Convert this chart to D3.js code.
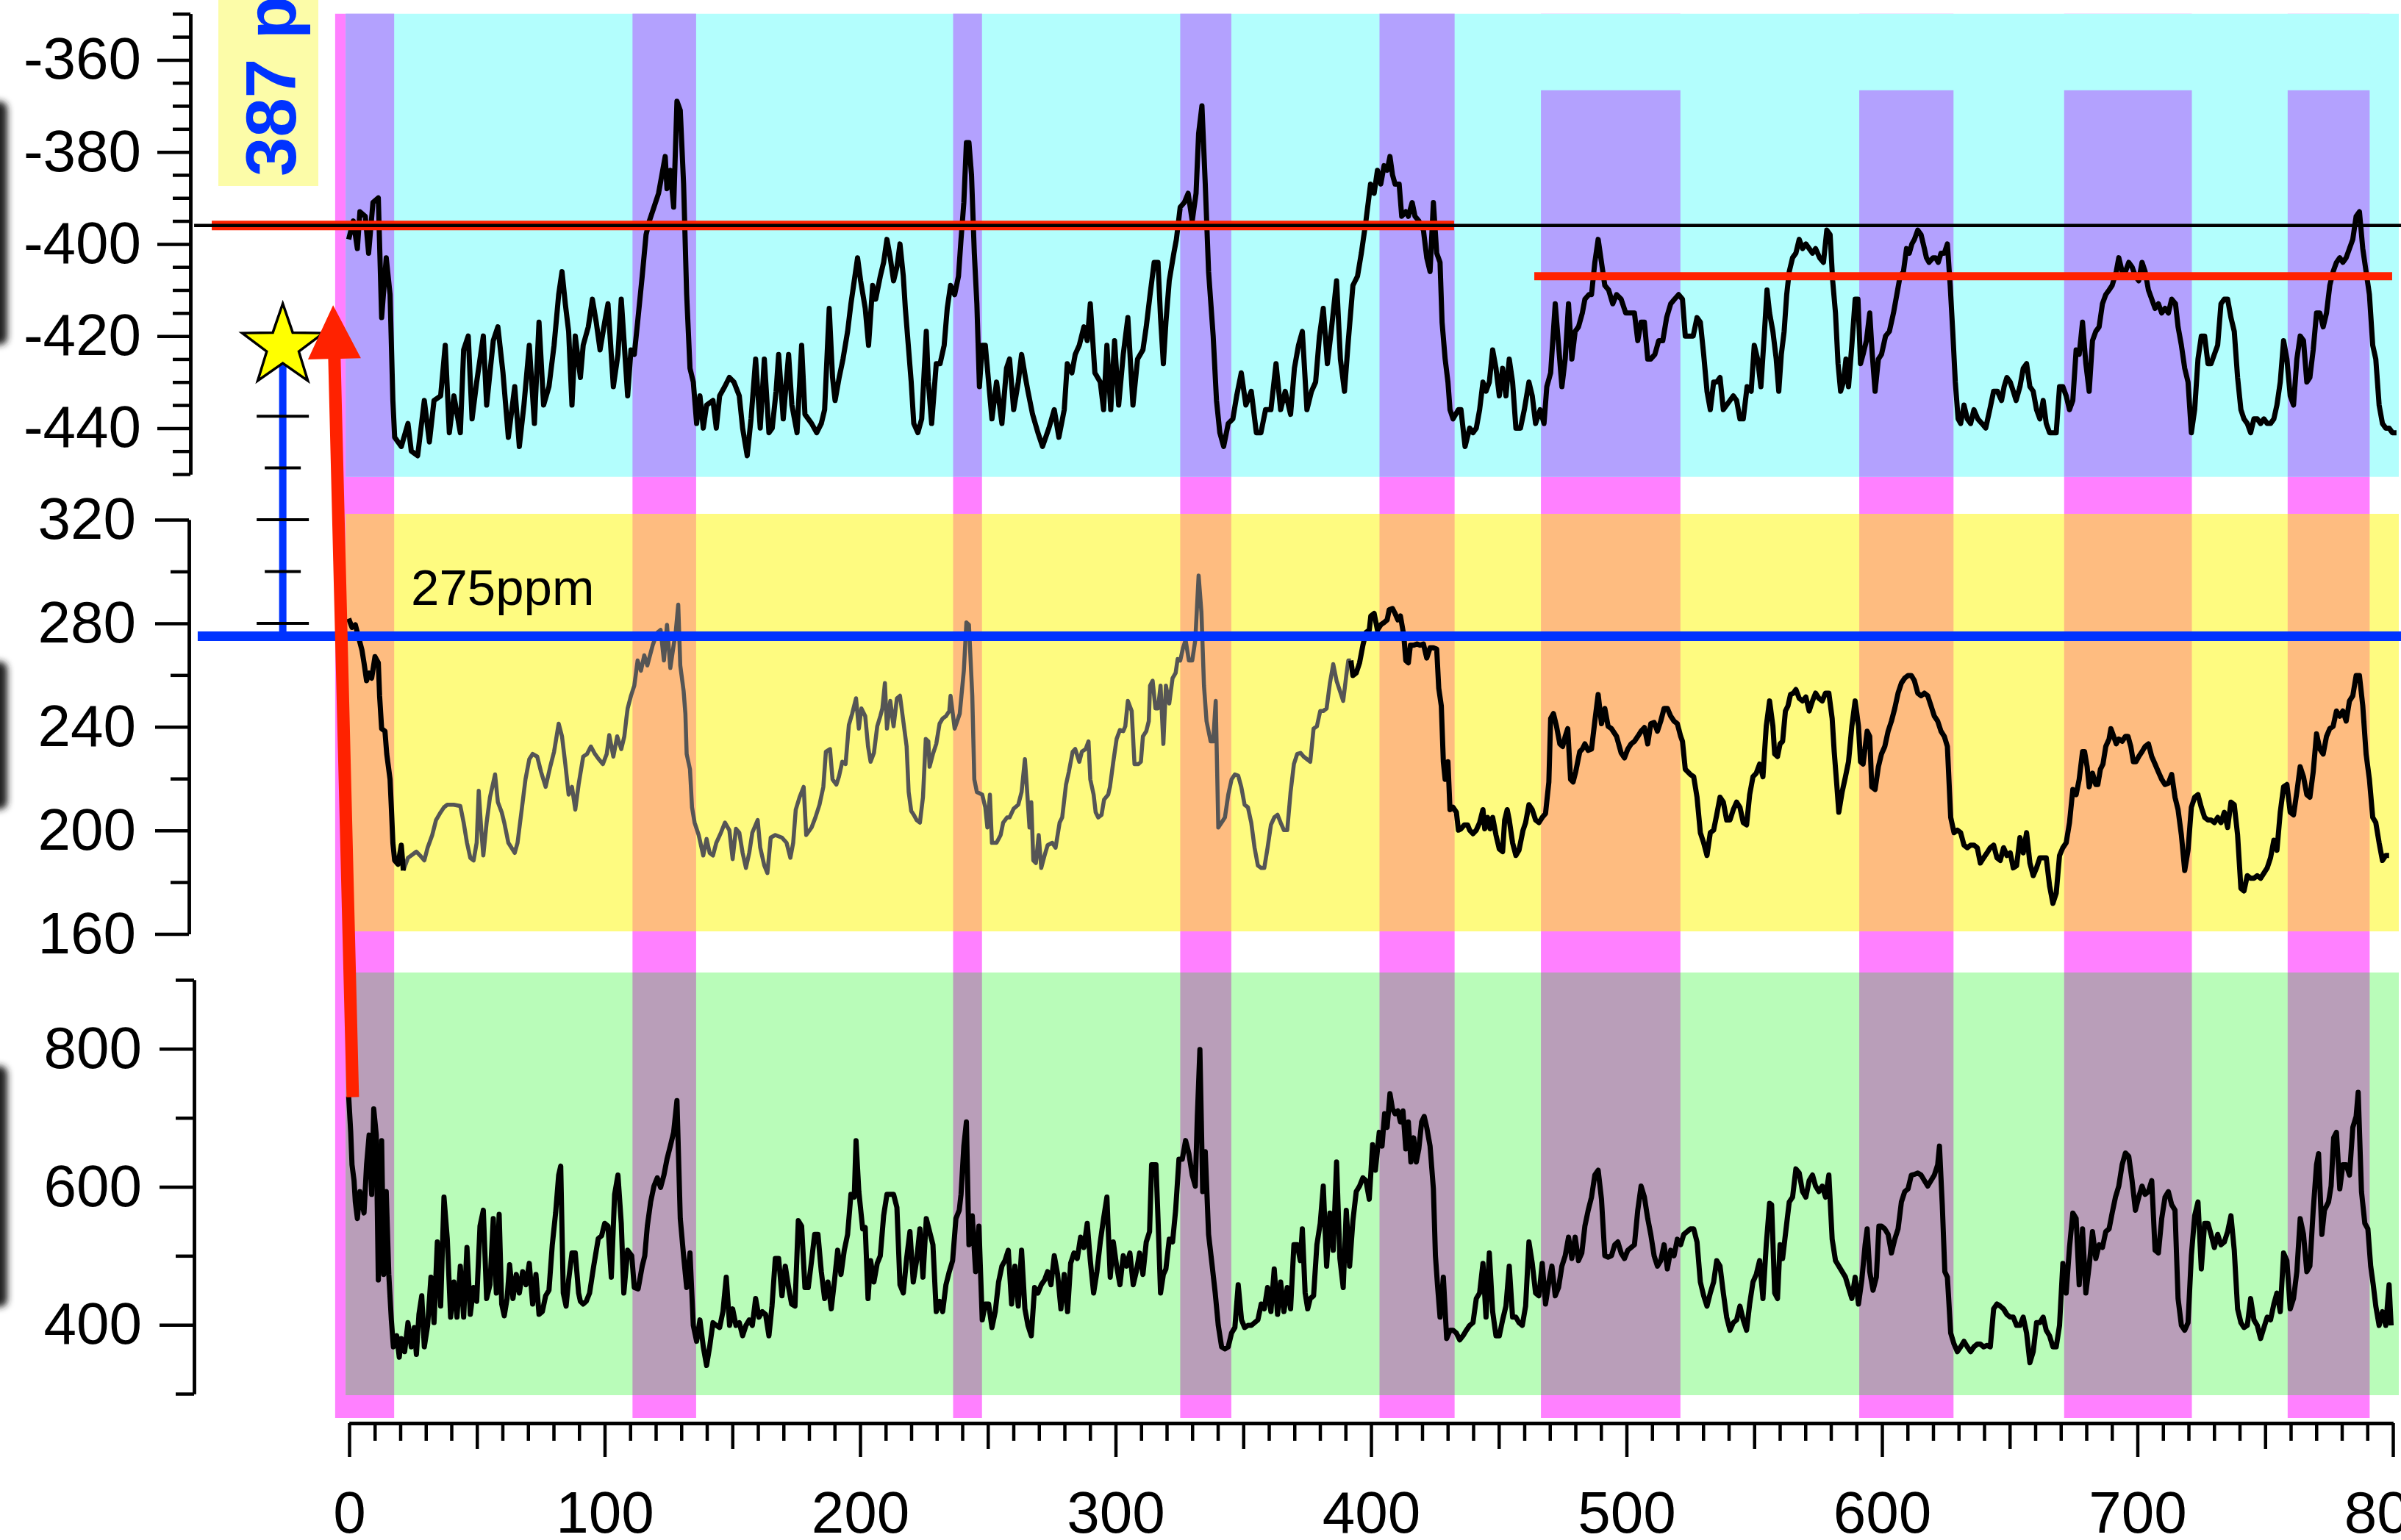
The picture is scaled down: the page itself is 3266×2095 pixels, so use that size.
<!DOCTYPE html>
<html>
<head>
<meta charset="utf-8">
<script src="https://cdn.jsdelivr.net/npm/d3@7"></script>
<style>
  body { margin: 0; background: #fff; }
  svg { display: block; font-family: "Liberation Sans", Arial, Helvetica, sans-serif; }
</style>
</head>
<body>
<div id="chart"></div>
<script>
// ---- data (age in ka BP, value) ----
// deuterium record (top panel, permil)
const dDSeries = [
[-0.2,-399],[1.6,-395],[3.2,-401],[4.2,-393],[6.3,-394],[7.6,-402],[9.3,-391],[11.4,-390],[12.7,-416],[14.5,-403],[16,-411],[17.1,-434],[17.8,-442],[20.4,-444],[23,-439],[24.3,-445],[26.8,-446],[29.4,-434],[31.4,-443],[33.2,-434],[35.8,-433],[37.6,-422],[39.2,-441],[41,-433],[43.5,-441],[44.8,-423],[46.6,-420],[48.1,-438],[49.9,-430],[52.5,-420],[53.8,-435],[56.4,-421],[58.2,-418],[60.2,-428],[62.3,-442],[64.8,-431],[66.6,-444],[68.4,-435],[70.5,-422],[72.5,-439],[74.3,-417],[76.1,-435],[78.2,-431],[80.2,-422],[82,-411],[83.3,-406],[84.6,-413],[85.9,-419],[87.2,-435],[88.5,-420],[90.5,-429],[91.6,-422],[93.6,-418],[95.2,-412],[96.7,-417],[98.2,-423],[100,-417],[101.3,-413],[103.4,-431],[105.2,-424],[106.5,-412],[107.7,-422],[109,-433],[110.3,-423],[111.6,-424],[112.9,-417],[114.7,-407],[116.2,-398],[117.5,-395],[119.3,-392],[121.1,-389],[122.4,-385],[123.7,-381],[124.4,-388],[125.7,-384],[127,-392],[128.3,-369],[129.6,-371],[130.9,-387],[132.1,-411],[133.4,-427],[134.7,-430],[136,-439],[137.3,-433],[138.6,-440],[139.9,-435],[142.4,-434],[143.7,-440],[145,-433],[147,-431],[148.8,-429],[150.6,-430],[152.7,-433],[154,-440],[155.8,-446],[157.3,-438],[159.1,-425],[160.9,-440],[162.5,-425],[164.3,-441],[165.6,-440],[167.1,-432],[168.1,-424],[169.9,-438],[172,-424],[173.3,-435],[175.3,-441],[177.1,-422],[178.4,-437],[181,-439],[183,-441],[184.8,-439],[186.1,-436],[187.9,-414],[189.2,-429],[190.2,-434],[191.8,-429],[193.3,-425],[195.1,-419],[196.4,-413],[197.7,-408],[199,-403],[200.2,-408],[202,-414],[203.3,-422],[204.9,-409],[206.1,-412],[207.9,-407],[209.2,-404],[210.5,-399],[211.8,-403],[213.1,-408],[214.4,-405],[215.6,-400],[216.9,-407],[217.7,-414],[219,-423],[220,-430],[221,-439],[222.6,-441],[224.1,-438],[225.9,-419],[226.7,-430],[228,-439],[229.8,-426],[231.3,-426],[232.9,-422],[234.1,-414],[235.4,-409],[237,-411],[238.5,-407],[239.5,-399],[240.6,-391],[241.6,-378],[242.6,-378],[243.6,-385],[244.7,-402],[245.7,-413],[246.7,-431],[247.8,-422],[249,-422],[250.3,-430],[251.6,-438],[253.4,-430],[255.5,-439],[257.3,-427],[258.5,-425],[260.1,-436],[261.9,-430],[263.2,-424],[264.7,-429],[265.7,-432],[267.5,-437],[269.6,-441],[271.4,-444],[273.9,-440],[276,-436],[277.8,-442],[279.9,-436],[281.1,-426],[282.9,-428],[284.2,-424],[285.8,-422],[287.6,-418],[288.9,-421],[290.1,-413],[291.9,-428],[294,-430],[295.3,-436],[296.6,-422],[298.1,-436],[299.6,-421],[301.2,-435],[303,-424],[304.8,-416],[306.8,-435],[308.6,-425],[310.7,-423],[312,-418],[313.5,-411],[315.1,-404],[316.6,-404],[317.6,-416],[318.7,-426],[319.7,-417],[321,-408],[322.8,-402],[323.8,-399],[325.3,-392],[326.9,-391],[328.4,-389],[330,-395],[331.5,-389],[332.5,-376],[333.8,-370],[335.1,-387],[336.4,-406],[338.2,-420],[339.5,-434],[340.8,-441],[342.3,-444],[344.1,-439],[345.9,-438],[347.4,-433],[349.2,-428],[351,-435],[353.1,-432],[355.1,-441],[356.9,-441],[358.7,-436],[360.8,-436],[362.8,-426],[364.6,-436],[366.4,-432],[368.5,-437],[370,-427],[371.6,-422],[373.1,-419],[374.9,-436],[376.7,-432],[378.3,-430],[379.8,-420],[381.3,-414],[382.9,-426],[384.4,-419],[386.5,-408],[388,-425],[389.6,-432],[391.1,-421],[392.9,-409],[394.7,-407],[396.2,-402],[398,-395],[399.8,-387],
[401.2,-389],[402.5,-384],[403.8,-387],[405.1,-383],[406.3,-384],[407.4,-381],[408.4,-385],[409.4,-387],[411,-387],[412,-394],[413.6,-393],[414.6,-394],[416.1,-391],[417.2,-394],[418.7,-395],[420.5,-397],[421.8,-403],[423.1,-406],[424.4,-391],[425.7,-402],[427,-404],[427.8,-417],[429,-425],[430.1,-430],[430.9,-436],[432.1,-438],[434.2,-436],[435.2,-436],[436.8,-444],[438.6,-440],[439.9,-441],[441.2,-440],[442.5,-436],[443.8,-430],[445,-432],[446.3,-430],[447.6,-423],[448.9,-427],[450.2,-433],[451.5,-427],[452.8,-433],[454.1,-425],[455.4,-430],[456.7,-440],[458.5,-440],[460,-436],[461.8,-430],[463.1,-433],[464.4,-439],[466.2,-436],[467.7,-439],[468.8,-431],[470.3,-428],[472.1,-413],[473.4,-422],[474.7,-431],[476,-425],[477.3,-413],[478.6,-425],[479.9,-419],[481.2,-418],[482.7,-415],[483.7,-412],[485.3,-411],[486.3,-411],[487.6,-404],[488.9,-399],[490.2,-404],[491.5,-409],[493,-410],[494.6,-413],[496.1,-411],[497.9,-412],[499.7,-415],[501.8,-415],[503.1,-415],[504.4,-421],[505.7,-417],[507,-417],[508.3,-425],[509.5,-425],[511.1,-424],[512.6,-421],[514.2,-421],[515.7,-416],[517.3,-413],[518.8,-412],[520.4,-411],[521.9,-412],[523,-420],[524.5,-420],[526.1,-420],[527.6,-416],[528.9,-417],[530.2,-424],[531.5,-432],[532.8,-436],[534.1,-430],[535.3,-430],[536.6,-429],[537.9,-436],[539.2,-435],[540.5,-434],[541.8,-433],[543.1,-434],[544.4,-438],[545.7,-438],[547.2,-431],[548.8,-432],[550,-422],[551.3,-425],[552.6,-431],[553.9,-420],[555,-410],[556,-415],[557.3,-419],[558.6,-425],[559.6,-432],[560.6,-424],[561.7,-419],[562.7,-411],[563.7,-406],[565,-403],[566.3,-402],[567.6,-399],[568.9,-401],[570.2,-400],[571.5,-401],[572.8,-402],[574,-401],[575.6,-403],[577.1,-404],[578.4,-397],[579.7,-398],[580.7,-408],[581.8,-415],[582.8,-426],[583.8,-432],[584.9,-430],[585.9,-425],[586.9,-431],[588.2,-422],[589.5,-412],[590.6,-412],[591.6,-426],[592.6,-424],[593.9,-421],[595.2,-415],[596.2,-424],[597.3,-432],[598.6,-425],[599.8,-424],[601.4,-420],[602.9,-419],[604.5,-415],[605.8,-411],[607.1,-407],[608.4,-406],[609.6,-401],[610.7,-402],[611.7,-400],[612.7,-399],[614,-397],[615.3,-398],[616.6,-401],[617.4,-403],[618.4,-404],[620,-403],[621,-403],[622,-404],[623.1,-402],[624.4,-402],[625.6,-400],[626.7,-409],[627.7,-419],[628.7,-430],[629.8,-438],[630.8,-439],[632.1,-435],[633.4,-438],[634.7,-439],[636,-436],[637.5,-438],[639.1,-439],[640.6,-440],[642.2,-436],[643.7,-432],[645.2,-432],[646.8,-434],[647.8,-431],[648.9,-429],[650.2,-430],[651.4,-432],[652.5,-434],[654,-431],[655.3,-427],[656.6,-426],[657.9,-431],[659.2,-432],[660.5,-436],[661.8,-438],[663.1,-434],[664.3,-439],[665.6,-441],[666.9,-441],[668.2,-441],[669.5,-431],[670.8,-431],[672.1,-433],[673.4,-436],[674.7,-434],[676,-423],[677.2,-424],[678.5,-417],[679.8,-426],[681.1,-432],[682.4,-421],[683.7,-419],[685,-418],[686.3,-413],[687.6,-411],[688.9,-410],[690.1,-409],[691.7,-406],[692.7,-403],[694,-406],[695.3,-406],[696.6,-404],[697.9,-405],[699.2,-407],[700.5,-408],[701.8,-404],[703,-406],[704.3,-410],[705.6,-412],[706.9,-414],[708.2,-413],[709.5,-415],[710.8,-414],[712.1,-415],[713.4,-412],[714.9,-413],[715.9,-418],[717.2,-422],[718.5,-427],[719.8,-430],[721.1,-441],[722.4,-436],[723.7,-425],[725,-420],[726.3,-420],[727.6,-426],[728.8,-426],[730.1,-424],[731.4,-422],[732.7,-413],[734,-412],[735.3,-412],[736.6,-416],[737.9,-419],[739.2,-429],[740.5,-436],[741.7,-438],[743,-439],[744.3,-441],[745.6,-438],[746.9,-438],[748.2,-439],[749.5,-438],[750.8,-439],[752.1,-439],[753.4,-438],[754.6,-435],[755.9,-430],[757.2,-421],[758.5,-425],[759.8,-433],[761.1,-435],[762.4,-425],[763.7,-420],[765,-421],[766.3,-430],[767.5,-429],[768.8,-423],[770.1,-415],[771.4,-415],[772.7,-418],[774,-415],[775.3,-409],[776.6,-406],[777.9,-404],[779.2,-403],[780.4,-404],[781.7,-403],[783,-401],[784.3,-399],[785.6,-394],[786.9,-393],[788.2,-401],[789.5,-406],[790.8,-411],[792.1,-422],[793.3,-425],[794.6,-435],[795.9,-439],[797.2,-440],[798.5,-440],[799.8,-441],[801.4,-441]
];

// CO2 (ppmv): recent high-resolution part, older low-resolution part (grey), oldest part
const co2Recent = [
[-0.2,281.8],[1.1,278.4],[2.4,279.4],[3.7,274.5],[5,269.6],[5.8,264.7],[6.8,257.8],[7.8,260.8],[8.8,258.8],[10.1,267.1],[11.4,264.7],[11.9,252],[12.7,239.3],[14,238.3],[14.7,229.5],[16,219.7],[16.5,208.9],[17.1,195.2],[17.8,188.4],[19.1,186.9],[20.4,194.3],[21.2,184.5]
];
const co2Grey = [
[21.2,184.5],[23,189.4],[24.3,190.3],[26.3,191.8],[28.1,189.9],[29.4,188.4],[30.7,193.3],[32.5,198.2],[34,204],[35.8,207],[37.1,208.9],[38.4,209.9],[40.9,209.9],[43.5,209.4],[44.8,203],[46.1,195.2],[47.4,189.4],[48.7,188.4],[49.9,195.2],[50.7,215.3],[51.7,200.1],[52.5,190.3],[53.8,203],[55.1,212.8],[57.1,221.6],[58.2,210.9],[59.7,207],[60.7,203],[62.3,195.2],[64.8,191.3],[65.9,195.2],[67.4,207],[69,219.7],[70.5,227.5],[71.8,229.5],[73.6,228.5],[75.1,222.6],[76.9,216.8],[78.7,224.6],[80.2,230.4],[82,241.2],[83.3,236.3],[84.6,225.6],[85.9,213.8],[87.2,216.8],[88.5,208],[89.8,217.7],[91.6,228.5],[93.1,229.5],[94.6,232.4],[96.2,229.5],[97.7,227.5],[99.3,225.6],[100.8,229.5],[101.8,236.8],[103.4,228.5],[104.9,236.3],[106.5,231.4],[107.7,236.3],[108.5,243.2],[109,247.1],[110.3,252],[111.6,255.9],[112.9,265.6],[114.2,261.7],[115.5,267.6],[116.7,263.7],[118.8,271.5],[120.6,276.4],[121.9,277.4],[123.2,265.6],[124.4,279.4],[125.7,262.7],[127,271.5],[127.8,276.4],[128.8,287.2],[129.6,263.7],[130.9,253.9],[131.6,245.1],[132.1,229.5],[133.4,223.6],[134.2,208.9],[135.2,203],[136.8,198.2],[138.6,190.3],[139.9,196.7],[141.1,191.3],[142.4,190.3],[143.7,195.2],[145.5,199.1],[147.1,203],[148.8,200.1],[150.1,188.9],[151.4,200.6],[152.7,199.1],[154,191.3],[155.3,185.5],[156.6,191.3],[157.8,199.1],[159.9,204],[160.9,193.3],[162.5,186.4],[163.7,183.5],[165,197.2],[166.8,198.2],[169.4,197.2],[171.2,195.2],[172.7,189.4],[173.8,195.2],[174.8,208],[176.3,212.8],[177.9,216.8],[178.9,198.2],[181,201.1],[182.5,205],[184.1,209.9],[185.6,216.8],[186.6,230.4],[188.2,231.4],[189.2,219.7],[190.7,217.7],[191.7,220.7],[193,226.5],[194.3,225.6],[195.6,240.7],[196.9,245.1],[198.4,251],[199.5,239.3],[200.5,247.1],[202,244.1],[203.1,232.4],[204.1,226.5],[205.4,229.9],[206.7,240.2],[207.9,244.1],[208.7,247.1],[209.7,256.9],[210.5,239.3],[211.8,250],[213.1,240.2],[214.4,251],[215.6,252],[216.9,242.2],[218.2,232.4],[219,214.8],[220,207.5],[221,206],[222.1,204],[223.4,203],[224.6,212.8],[225.7,235.3],[226.7,234.4],[227.2,224.6],[228.5,229.5],[229.8,233.4],[231.1,241.2],[232.3,243.2],[233.6,244.1],[234.9,246.1],[235.4,252],[237,239.3],[238,242.2],[239,245.1],[240.6,261.7],[241.6,280.3],[242.6,279.4],[243.9,252],[244.7,219.7],[245.7,214.8],[247.8,213.8],[249,208.9],[249.8,201.1],[250.8,213.8],[251.6,195.2],[253.4,195.2],[255,198.2],[256,203],[257.5,205],[258.5,205],[260.1,208.4],[261.9,209.9],[263.2,214.8],[264.5,227.5],[265.2,217.7],[266.3,201.1],[267,210.9],[267.8,188.4],[268.8,187.4],[269.9,198.2],[270.9,185.5],[272.2,190.3],[273.4,194.3],[275.2,195.2],[276.5,193.3],[278.1,203],[279.1,205],[280.6,217.7],[281.7,222.6],[283.2,230.4],[284.2,231.4],[285.8,226.5],[286.8,230.4],[288.3,231.4],[289.4,234.4],[290.1,219.7],[291.4,213.8],[292.2,207],[293.2,205],[294.5,206],[295.5,211.9],[297.1,213.8],[297.8,216.8],[299.1,226.5],[300.4,235.3],[301.7,238.8],[303,238.3],[303.8,240.2],[304.8,250],[306.3,246.1],[307.4,225.6],[308.9,225.6],[309.9,226.5],[310.7,236.3],[312,238.3],[313,242.2],[313.5,255.9],[314.5,257.8],[315.6,247.1],[316.6,247.1],[317.6,255.9],[318.7,233.4],[319.7,255.9],[321,249],[322.3,258.8],[323.5,260.8],[324.3,266.2],[325.3,265.6],[326.4,270.5],[327.4,273.5],[328.7,265.6],[330,265.6],[331.2,273.5],[332.5,298.4],[333.6,284.2],[334.6,255.9],[335.6,242.2],[337.2,234.4],[338.2,234.4],[339.2,250],[340.2,201.1],[341.5,203],[342.8,205],[344.1,213.8],[345.4,219.7],[346.7,221.6],[348,221.1],[349.2,216.8],[350.5,209.9],[351.8,208.9],[353.1,203],[354.4,193.3],[355.7,186.4],[357,185.5],[358.2,185.5],[359.5,193.3],[360.8,202.1],[362.1,205],[363.4,206],[364.6,203],[365.9,200.1],[367.2,200.1],[368.5,214.8],[369.8,225.6],[371.1,229.5],[372.4,229.9],[373.6,228.5],[374.9,227.5],[376.2,226.5],[377.5,239.3],[378.8,240.2],[380.1,246.1],[381.3,246.1],[382.6,247.1],[383.9,256.9],[385.2,264.2],[386.5,257.8],[387.8,253.9],[389.1,250],[390.3,259.8],[391.1,265.6],[392.1,265.6]
];
const co2Old = [
[392.1,265.6],[392.9,259.8],[394.2,260.8],[395.5,264.7],[396.8,271.5],[398,276.4],[399.3,277.4],[399.9,282.8],[401.2,283.8],[402.5,277.4],[403.8,279.4],[405.1,280.3],[406.3,281.3],[407.1,285.2],[408.4,285.7],[409.4,283.8],[410.5,281.3],[411.5,282.8],[412.8,275.4],[413.6,265.6],[414.6,264.7],[415.4,271.5],[416.7,271.5],[418,272],[419.2,271.5],[420.5,272],[421.8,266.6],[423.1,270.5],[424.4,270.5],[425.7,270],[426.5,254.9],[427.5,248.1],[428.3,226.5],[429,219.7],[430.1,226.5],[430.9,208],[432.1,208.9],[433.4,207],[434.2,200.1],[435.2,200.6],[436.5,202.1],[437.8,202.1],[438.6,200.1],[439.9,198.7],[441.2,200.1],[442.5,203],[443.8,208],[444.5,200.6],[445.6,205],[446.6,200.6],[447.6,205],[448.9,198.2],[450.2,192.8],[451.5,191.8],[452.3,204],[453.3,208],[454.1,204],[455.4,195.2],[456.7,190.3],[457.9,192.3],[459.5,200.1],[460.5,203],[461.8,209.9],[463.1,208],[464.4,204],[465.7,203],[467,205],[468.3,206.5],[469.6,218.7],[470.3,243.2],[471.4,245.1],[472.6,240.2],[473.9,233.4],[475,232.4],[476,236.3],[477,239.3],[478.1,219.7],[479.1,218.7],[480.1,222.6],[481.7,230.4],[482.7,231.4],[483.7,233.4],[485,230.9],[486.3,231.4],[487.6,242.2],[488.9,252.5],[490.2,241.2],[491.5,247.1],[492.8,240.2],[494.1,239.3],[495.1,237.8],[496.1,236.3],[497.9,229.9],[499.2,228],[500.5,231.4],[501.8,233.4],[503.1,234.4],[504.4,236.3],[505.7,238.3],[507,239.7],[508.3,233.4],[509.5,241.2],[510.8,241.7],[512.1,238.3],[513.4,242.2],[514.7,247.1],[516,247.1],[517.3,244.1],[518.6,242.2],[519.9,241.2],[521.2,236.3],[521.9,234.4],[523,223.6],[524,222.6],[525,221.6],[526.3,220.7],[527.6,212.8],[528.9,199.1],[530.2,195.2],[531.5,190.3],[532.8,199.1],[534.1,200.1],[535.3,206],[536.6,212.8],[537.9,210.9],[539.2,204],[540.5,204],[541.8,208],[543.1,210.9],[544.4,208.9],[545.7,203],[547,202.1],[548.2,213.8],[549.5,220.7],[550.8,222.1],[552.1,225.6],[553.4,220.7],[554.7,240.2],[556,250],[557.3,240.2],[558,229.5],[559.1,228.5],[560.1,233.4],[561.1,234.4],[562.2,246.1],[563.2,248.1],[564.2,252.5],[565.3,253],[566.3,254.4],[567.6,251],[568.9,250],[570.2,251.5],[571.5,246.1],[572.8,250],[574,253],[575.3,251],[576.6,250],[577.9,253],[579.2,253],[580.5,243.2],[581.3,230.4],[582.3,217.7],[583.1,207],[584.4,214.8],[585.7,220.7],[586.9,226.5],[588.2,240.2],[589.5,250],[590.8,240.2],[591.6,226.5],[592.6,225.6],[594.2,238.3],[595.2,236.3],[596,216.8],[597.3,215.8],[598.6,224.6],[599.8,229.5],[601.1,232.4],[602.4,238.3],[603.7,242.2],[605,247.1],[606.3,253],[607.6,256.9],[608.9,258.8],[610.2,259.8],[611.5,259.8],[612.7,257.8],[614,253],[615.3,252],[616.6,253],[617.9,252],[619.2,248.1],[620.5,244.1],[621.8,242.2],[623.1,238.3],[624.4,236.3],[625.6,232.4],[626.9,205],[628.2,199.1],[629.5,200.1],[630.8,199.1],[632.1,194.3],[633.4,193.3],[634.7,194.3],[636,194.3],[637.3,193.3],[638.5,187.4],[639.8,189.4],[641.1,191.3],[642.4,193.3],[643.7,194.3],[645,189.4],[646.3,188.4],[647.6,193.3],[648.9,190.3],[650.2,191.3],[651.4,185.5],[652.7,186.4],[654,197.2],[655.3,191.3],[656.6,199.1],[657.9,187.4],[659.2,182.5],[660.5,185.5],[661.8,189.4],[663.1,189.4],[664.3,189.4],[665.6,178.6],[666.9,171.8],[668.2,175.7],[669.5,190.3],[670.8,193.3],[672.1,195.2],[673.4,203],[674.7,215.8],[676,213.8],[677.2,219.7],[678.5,230.4],[679.3,230.4],[680.3,224.6],[681.1,216.8],[682.4,222.1],[683.7,217.7],[684.5,217.7],[685.5,223.6],[686.5,225.6],[687.6,232.4],[688.9,235.3],[689.6,239.3],[690.7,236.3],[691.7,233.4],[692.7,235.3],[694,234.4],[695.3,236.3],[696.3,236.3],[697.4,232.4],[698.4,226.5],[699.4,226.5],[700.5,228.5],[701.8,230.4],[703,232.4],[704.3,233.4],[705.6,228.5],[706.9,225.6],[708.2,222.6],[709.5,219.7],[710.8,217.7],[712.1,218.2],[713.4,221.6],[714.7,212.8],[715.9,208],[717.2,198.2],[718.5,184.5],[719.8,192.3],[721.1,208.9],[722.4,212.8],[723.7,213.8],[725,208.9],[726.3,205],[727.6,204],[728.8,204],[730.1,203],[731.4,205],[732.7,203],[734,207],[735.3,201.1],[736.6,210.9],[737.9,209.9],[739.2,198.2],[740.5,177.6],[741.7,176.6],[743,182.5],[744.3,181.5],[745.6,181.5],[746.9,182.5],[748.2,181.5],[749.5,183.5],[750.8,185.5],[752.1,189.4],[753.4,196.2],[754.6,192.3],[755.9,207],[757.2,216.8],[758.5,217.7],[759.8,207],[761.1,206],[762.4,214.8],[763.7,224.6],[765,220.7],[766.3,213.8],[767.5,212.8],[768.8,222.6],[770.1,237.3],[771.4,231.4],[772.7,229.5],[774,236.3],[775.3,239.3],[776.6,240.2],[777.9,246.1],[779.2,244.1],[780.4,246.1],[781.7,242.2],[783,250],[784.3,252],[785.6,259.8],[786.9,259.8],[788.2,248.1],[789.5,229.5],[790.8,219.7],[792.1,205],[793.3,203],[794.6,195.2],[795.9,188.4],[797.2,190.3],[798.5,190.3]
];

// CH4 (ppbv)
const ch4Series = [
[-0.2,731],[0.6,679],[1.1,632],[1.9,609],[2.4,578],[3.2,554],[4.2,593],[5.8,562],[6.8,632],[7.8,675],[8.8,589],[9.6,713],[10.6,675],[11.4,465],[12.7,667],[13.5,473],[14.5,593],[15.5,473],[16.5,407],[17.3,368],[18.6,384],[19.6,353],[20.4,380],[21.7,361],[23,403],[24.3,368],[25.5,396],[26.3,357],[27.3,415],[28.4,442],[29.4,368],[30.7,399],[32,469],[33.2,403],[34.5,520],[35.8,427],[37.1,585],[38.4,524],[39.7,411],[41,462],[42.2,411],[43.5,485],[44.8,411],[46.1,512],[47.4,415],[48.7,454],[49.9,434],[51.2,543],[52.5,566],[53.8,438],[55.1,458],[56.4,554],[57.6,446],[58.7,560],[59.7,430],[60.7,413],[61.8,438],[62.8,487],[64.1,438],[65.4,473],[66.6,446],[67.9,477],[69.2,458],[70.5,489],[71.8,430],[73.1,473],[74.3,415],[75.6,419],[76.9,442],[78.2,450],[79.5,516],[80.8,562],[82,617],[82.8,630],[83.8,446],[84.9,427],[85.9,465],[87.2,504],[88.5,504],[89.8,446],[90.5,434],[91.6,430],[92.8,434],[94.1,446],[95.7,485],[97.5,525],[98.8,529],[100,547],[101.3,543],[102.6,469],[103.9,589],[105.2,617],[106.5,547],[107.5,446],[109,508],[110.6,500],[111.6,454],[113.1,452],[114.7,485],[115.7,500],[116.7,543],[118,578],[119.3,601],[120.6,613],[121.9,599],[123.2,617],[124.4,640],[125.7,659],[127,679],[128.3,725],[129.6,554],[130.9,500],[132.1,454],[133.4,504],[134.7,399],[136,376],[137.3,407],[138.6,368],[139.9,341],[141.1,368],[142.4,403],[143.7,399],[145,396],[146.3,419],[147.6,469],[148.9,399],[150.1,423],[151.4,399],[152.7,403],[154,384],[155.3,399],[156.6,407],[157.8,399],[159.1,438],[160.4,411],[161.7,419],[163,415],[164.3,384],[165.5,427],[166.8,496],[168.1,496],[169.4,442],[170.7,485],[172,454],[173.2,430],[174.5,427],[175.8,551],[177.1,543],[178.4,454],[179.7,454],[181,493],[182.2,531],[183.5,531],[184.8,477],[186.1,438],[187.4,462],[188.7,423],[190,465],[191.2,508],[192.5,473],[193.8,508],[195.1,531],[196.4,589],[197.7,585],[198.4,667],[199.5,593],[201,539],[202,541],[203.1,438],[204.1,493],[205.4,462],[206.7,489],[207.9,500],[209.2,558],[210.5,589],[211.8,589],[213.1,589],[214.4,570],[215.6,458],[216.9,446],[218.2,496],[219.5,535],[220.8,462],[222.1,493],[223.4,539],[224.6,469],[225.9,554],[227.2,535],[228.5,516],[229.8,419],[231.1,434],[232.3,419],[233.6,458],[234.9,477],[236.2,493],[237.5,554],[238.8,566],[239.5,589],[240.6,659],[241.6,694],[242.6,516],[243.9,558],[245.2,477],[246.5,543],[247.8,407],[249,430],[250.3,430],[251.6,396],[252.9,419],[254.2,462],[255.5,485],[256.7,493],[258,508],[259.3,430],[260.6,485],[261.9,427],[263.2,508],[264.5,423],[265.7,399],[267,384],[268.3,454],[269.6,446],[270.9,458],[272.2,465],[273.4,477],[274.7,458],[276,500],[277.3,473],[278.6,423],[279.9,473],[281.2,419],[282.4,489],[283.7,504],[285,496],[286.3,527],[287.6,512],[288.9,547],[290.1,493],[291.4,446],[292.7,477],[294,520],[295.3,554],[296.6,585],[297.9,469],[299.1,520],[300.4,485],[301.7,458],[303,500],[304.3,485],[305.6,504],[306.9,458],[308.1,477],[309.4,504],[310.7,473],[312,520],[313.3,535],[314.1,632],[315.8,632],[316.6,554],[317.6,446],[318.7,473],[319.7,481],[321,524],[322.3,520],[323.5,566],[324.8,640],[326.1,640],[327.4,667],[328.7,648],[330,617],[331.2,601],[332,702],[333,799],[334.1,593],[335.1,651],[336.4,531],[337.7,489],[339,446],[340.2,399],[341.5,368],[342.8,365],[344.1,368],[345.4,388],[346.7,396],[348,458],[349.3,407],[350.5,396],[351.8,399],[353.1,399],[354.4,403],[355.7,407],[357,430],[358.2,423],[359.5,454],[360.8,419],[362.1,481],[363.4,415],[364.6,462],[365.9,419],[367.2,454],[368.5,423],[369.8,516],[371.1,516],[372.3,493],[373.1,539],[374.2,446],[375.2,423],[376.2,438],[377.5,442],[378.8,516],[380.1,547],[381.3,601],[382.6,485],[383.9,562],[385.2,508],[386.5,636],[387.8,496],[389.1,454],[390.3,566],[391.6,485],[392.9,551],[394.2,593],[395.5,601],[396.8,613],[398,609],[399.3,582],[400.6,661],
[401.7,624],[403.2,679],[404.3,659],[405.3,706],[406.3,686],[407.4,735],[408.4,713],[409.4,706],[410.5,710],[411.5,694],[412.5,710],[413.6,655],[414.6,694],[415.6,636],[416.7,671],[417.7,636],[418.7,655],[419.8,694],[420.8,702],[421.8,686],[423.1,659],[424.4,597],[425.2,500],[426,458],[427,411],[428.3,469],[429.6,380],[430.9,392],[432.1,392],[433.4,388],[434.7,378],[436,384],[437.3,392],[438.6,399],[439.9,403],[441.2,438],[442.5,446],[443.8,489],[445,411],[446.3,504],[447.6,419],[448.9,384],[450.2,384],[451.5,407],[452.8,427],[454.1,485],[455.4,411],[456.7,411],[457.9,403],[459.2,399],[460.5,427],[461.8,520],[463.1,489],[464.4,446],[465.7,442],[467,489],[468.3,430],[469.6,462],[470.8,485],[472.1,442],[473.4,454],[474.7,485],[476,500],[477.3,527],[478.6,496],[479.9,527],[481.2,493],[482.5,504],[483.7,543],[485,566],[486.3,585],[487.6,617],[488.9,624],[490.2,582],[491.5,500],[492.8,498],[494.1,500],[495.4,516],[496.6,520],[497.9,504],[499.2,496],[500.5,508],[501.8,512],[503.1,516],[504.4,566],[505.7,601],[507,585],[508.3,554],[509.5,531],[510.8,500],[512.1,485],[513.4,493],[514.7,516],[516,481],[517.3,508],[518.6,500],[519.9,524],[521.2,516],[522.4,531],[523.7,535],[525,539],[526.3,539],[527.6,520],[528.9,462],[530.2,442],[531.5,427],[532.8,446],[534.1,462],[535.3,493],[536.6,485],[537.9,446],[539.2,411],[540.5,392],[541.8,403],[543.1,407],[544.4,427],[545.7,407],[547,392],[548.2,430],[549.5,462],[550.8,473],[552.1,493],[553.4,438],[554.7,516],[556,576],[556.8,574],[558,446],[559.1,438],[560.1,516],[561.1,496],[562.2,531],[563.7,578],[565,585],[566.3,626],[567.6,620],[568.9,593],[570.2,585],[571.5,609],[572.8,617],[574,601],[575.3,593],[576.6,601],[577.9,585],[579.2,617],[580.5,524],[581.8,493],[583.1,485],[584.4,477],[585.7,469],[586.9,454],[588.2,438],[589.5,469],[590.8,430],[592.1,465],[593.4,516],[594.2,539],[595.2,477],[596.5,450],[597.8,469],[598.8,543],[599.8,543],[601.1,539],[602.4,531],[603.7,504],[605,524],[606.3,539],[607.6,578],[608.9,593],[610.2,597],[611.5,617],[612.7,618],[614,620],[615.3,617],[616.6,609],[617.9,601],[619.2,609],[620.5,617],[621.8,632],[622.5,659],[623.6,574],[624.6,477],[625.6,469],[626.9,388],[628.2,372],[629.5,361],[630.8,368],[632.1,376],[633.4,368],[634.7,361],[636,368],[637.3,372],[638.5,372],[639.8,368],[641.1,370],[642.4,368],[643.7,423],[645,430],[646.3,427],[647.6,423],[648.9,415],[650.2,411],[651.4,411],[652.7,399],[654,399],[655.3,411],[656.6,388],[657.9,345],[659.2,361],[660.5,403],[661.8,403],[663.1,411],[664.3,392],[665.6,384],[666.9,368],[668.2,368],[669.5,399],[670.8,489],[672.1,446],[673.4,512],[674.7,562],[676,554],[677.2,458],[678.5,539],[679.8,446],[681.1,485],[682.4,535],[683.7,496],[685,516],[686.3,512],[687.6,535],[688.9,539],[690.1,562],[691.4,585],[692.7,601],[694,632],[695.3,649],[696.6,644],[697.9,609],[699.2,566],[700.5,585],[701.8,601],[703,589],[704.3,593],[705.6,609],[706.9,508],[708.2,504],[709.5,554],[710.8,585],[712.1,593],[713.4,574],[714.7,566],[715.9,438],[717.2,399],[718.5,392],[719.8,403],[721.1,500],[722.4,558],[723.7,578],[725,481],[726.3,547],[727.6,547],[728.8,531],[730.1,512],[731.4,531],[732.7,516],[734,520],[735.3,535],[736.6,558],[737.9,508],[739.2,423],[740.5,403],[741.7,396],[743,399],[744.3,438],[745.6,407],[746.9,399],[748.2,380],[749.5,396],[750.8,411],[752.1,407],[753.4,430],[754.6,446],[755.9,419],[757.2,504],[758.5,493],[759.8,423],[761.1,438],[762.4,477],[763.7,554],[765,531],[766.3,477],[767.5,485],[768.8,566],[770.1,632],[770.9,648],[772.2,531],[773.2,566],[774.8,578],[775.8,601],[776.8,671],[777.9,679],[779.2,597],[780.4,632],[781.7,632],[783,617],[784.3,686],[785.6,702],[786.4,737],[787.7,593],[789,547],[790.2,539],[791.3,485],[792.3,458],[793.3,427],[794.6,399],[795.9,419],[797.2,399],[798.5,458],[799.3,399]
];

// interglacial bands (ka)
const bandStart = [-5.5, 110.9, 236.4, 325.3, 403.3, 466.5, 591.1, 671.3, 758.8];
const bandEnd   = [17.6, 135.8, 247.7, 345.3, 432.7, 521.1, 628.0, 721.3, 790.9];

// axis ticks
const xMajor = [0, 100, 200, 300, 400, 500, 600, 700, 800];
const xMid = [50, 150, 250, 350, 450, 550, 650, 750];
const xMinor = d3.range(0, 801, 10).filter(v => v % 50 !== 0);
const dDMajor = [-360, -380, -400, -420, -440];
const dDMinor = d3.range(-450, -349, 5).filter(v => v % 20 !== 0);
const co2Major = [160, 200, 240, 280, 320];
const co2Minor = [180, 220, 260, 300];
const ch4Major = [400, 600, 800];
const ch4Minor = [300, 500, 700, 900];

// reference levels and annotations
const dDRefLevel = -396;      // black line and first red line
const dDRefSpan = [-60.7, 803.2];
const dDRedSpan = [-53.8, 432.5];
const dDRed2Level = -407;
const dDRed2Span = [463.9, 799.7];
const co2RefLevel = 275;
const co2RefSpan = [-59.3, 803.2];
const co2RefLabel = "275ppm";
const co2Today = 387;
const co2TodayLabel = "387 ppm";
const scaleBarAge = -26;
const scaleBarWide = [280, 320, 360];
const scaleBarNarrow = [300, 340];
const arrowTail = {age: 1.4, ch4: 730};
const arrowTip = {age: -6.3, dD: -413.3};

// ---- layout ----
const W = 3266, H = 2095;
const colors = {
  magenta: "#ff80ff", cyan: "#b3fefd", purple: "#b3a1fe",
  yellow: "#fefb80", orange: "#febc80", green: "#b9fcb9", mauve: "#b99eb9",
  red: "#ff2200", blue: "#0033ff", grey: "#555555", note: "#fcfca8"
};

const svg = d3.select("#chart").append("svg")
  .attr("width", W).attr("height", H);

const x = d3.scaleLinear().domain([0, 800]).range([475, 3255]);
const yDD = d3.scaleLinear().domain([-350, -450]).range([18.75, 645]);
const yCO2 = d3.scaleLinear().domain([320, 160]).range([707, 1270.5]);
const yCH4 = d3.scaleLinear().domain([900, 300]).range([1333, 1896]);

const panelX0 = x(-1.4), panelX1 = x(802.3);
const panels = [
  {y0: 18.75, y1: 648.7, bg: colors.cyan, band: colors.purple},
  {y0: 699, y1: 1267, bg: colors.yellow, band: colors.orange},
  {y0: 1323, y1: 1898, bg: colors.green, band: colors.mauve}
];

// blurred dark tabs cut off at the left edge
const defs = svg.append("defs");
defs.append("filter").attr("id", "blur").attr("x", "-50%").attr("width", "200%")
  .append("feGaussianBlur").attr("stdDeviation", 5);
[[138, 469], [900, 1101], [1450, 1778]].forEach(([a, b]) => {
  svg.append("rect").attr("x", -40).attr("y", a).attr("width", 50).attr("height", b - a)
    .attr("rx", 10).attr("fill", "#222").attr("filter", "url(#blur)");
});

// magenta strips behind everything
bandStart.forEach((s, i) => {
  svg.append("rect")
    .attr("x", x(s)).attr("y", 18.75)
    .attr("width", x(bandEnd[i]) - x(s)).attr("height", 1929 - 18.75)
    .attr("fill", colors.magenta);
});

// panel backgrounds and band overlays
panels.forEach((p, k) => {
  svg.append("rect").attr("x", panelX0).attr("y", p.y0)
    .attr("width", panelX1 - panelX0).attr("height", p.y1 - p.y0)
    .attr("fill", p.bg);
  bandStart.forEach((s, i) => {
    const x0 = Math.max(x(s), panelX0);
    const top = (k === 0 && i >= 5) ? 122.8 : p.y0;
    svg.append("rect").attr("x", x0).attr("y", top)
      .attr("width", x(bandEnd[i]) - x0).attr("height", p.y1 - top)
      .attr("fill", p.band);
  });
});

// ---- series ----
const lineDD = d3.line().x(d => x(d[0])).y(d => yDD(d[1]));
const lineCO2 = d3.line().x(d => x(d[0])).y(d => yCO2(d[1]));
const lineCH4 = d3.line().x(d => x(d[0])).y(d => yCH4(d[1]));

svg.append("path").datum(dDSeries).attr("d", lineDD)
  .attr("fill", "none").attr("stroke", "#000").attr("stroke-width", 7)
  .attr("stroke-linejoin", "round");
svg.append("path").datum(co2Grey).attr("d", lineCO2)
  .attr("fill", "none").attr("stroke", colors.grey).attr("stroke-width", 5.5)
  .attr("stroke-linejoin", "round");
[co2Recent, co2Old].forEach(seg => {
  svg.append("path").datum(seg).attr("d", lineCO2)
    .attr("fill", "none").attr("stroke", "#000").attr("stroke-width", 7)
    .attr("stroke-linejoin", "round");
});
svg.append("path").datum(ch4Series).attr("d", lineCH4)
  .attr("fill", "none").attr("stroke", "#000").attr("stroke-width", 7)
  .attr("stroke-linejoin", "round");

// ---- reference lines ----
svg.append("line")
  .attr("x1", x(dDRedSpan[0])).attr("x2", x(dDRedSpan[1]))
  .attr("y1", yDD(dDRefLevel)).attr("y2", yDD(dDRefLevel))
  .attr("stroke", colors.red).attr("stroke-width", 13);
svg.append("line")
  .attr("x1", x(dDRefSpan[0])).attr("x2", x(dDRefSpan[1]))
  .attr("y1", yDD(dDRefLevel)).attr("y2", yDD(dDRefLevel))
  .attr("stroke", "#000").attr("stroke-width", 4.5);
svg.append("line")
  .attr("x1", x(dDRed2Span[0])).attr("x2", x(dDRed2Span[1]))
  .attr("y1", yDD(dDRed2Level)).attr("y2", yDD(dDRed2Level))
  .attr("stroke", colors.red).attr("stroke-width", 11);

// present-day CO2 scale bar
svg.append("line")
  .attr("x1", x(scaleBarAge)).attr("x2", x(scaleBarAge))
  .attr("y1", yCO2(co2RefLevel)).attr("y2", yCO2(co2Today))
  .attr("stroke", colors.blue).attr("stroke-width", 10);
scaleBarWide.concat(scaleBarNarrow).forEach(v => {
  const half = scaleBarWide.includes(v) ? 35.5 : 24.5;
  svg.append("line")
    .attr("x1", x(scaleBarAge) - half).attr("x2", x(scaleBarAge) + half)
    .attr("y1", yCO2(v)).attr("y2", yCO2(v))
    .attr("stroke", "#000").attr("stroke-width", 4);
});

svg.append("line")
  .attr("x1", x(co2RefSpan[0])).attr("x2", x(co2RefSpan[1]))
  .attr("y1", yCO2(co2RefLevel)).attr("y2", yCO2(co2RefLevel))
  .attr("stroke", colors.blue).attr("stroke-width", 13);

svg.append("text")
  .attr("x", x(24.2)).attr("y", yCO2(287.2))
  .attr("font-size", 69).attr("fill", "#000")
  .text(co2RefLabel);

// star at today's CO2
const starR = 58, starr = 23;
const starPts = d3.range(10).map(i => {
  const a = -Math.PI / 2 + i * Math.PI / 5;
  const r = i % 2 === 0 ? starR : starr;
  return [Math.cos(a) * r, Math.sin(a) * r];
});
svg.append("polygon")
  .attr("points", starPts.map(p => p.join(",")).join(" "))
  .attr("transform", `translate(${x(scaleBarAge)},${yCO2(co2Today)})`)
  .attr("fill", "#ffff00").attr("stroke", "#000").attr("stroke-width", 3.5)
  .attr("stroke-linejoin", "miter");

// red arrow
const tx = x(arrowTail.age), ty = yCH4(arrowTail.ch4);
const hx = x(arrowTip.age), hy = yDD(arrowTip.dD);
const len = Math.hypot(hx - tx, hy - ty);
const ang = Math.atan2(hy - ty, hx - tx) * 180 / Math.PI;
const shaftW = 17, headW = 72, headL = 73;
svg.append("polygon")
  .attr("points", [
    [0, -shaftW / 2], [len - headL, -shaftW / 2], [len - headL, -headW / 2],
    [len, 0], [len - headL, headW / 2], [len - headL, shaftW / 2], [0, shaftW / 2]
  ].map(p => p.join(",")).join(" "))
  .attr("transform", `translate(${tx},${ty}) rotate(${ang})`)
  .attr("fill", colors.red);

// rotated 387 ppm label
svg.append("rect").attr("x", 297).attr("y", 0).attr("width", 136).attr("height", 253)
  .attr("fill", colors.note);
svg.append("text")
  .attr("transform", "translate(402,240) rotate(-90)")
  .attr("font-size", 96).attr("font-weight", "bold").attr("fill", colors.blue)
  .text(co2TodayLabel);

// ---- axes ----
function styleAxis(g, fontSize) {
  g.attr("font-family", null).attr("font-size", fontSize);
  g.selectAll("line, path").attr("stroke", "#000").attr("stroke-width", 4.5);
  g.selectAll("text").attr("fill", "#000");
}

function leftAxis(scale, xpos, major, minor, majLen, minLen, pad) {
  const gMinor = svg.append("g").attr("transform", `translate(${xpos},0)`)
    .call(d3.axisLeft(scale).tickValues(minor).tickSize(minLen).tickSizeOuter(0).tickFormat(""));
  styleAxis(gMinor, 80);
  const gMajor = svg.append("g").attr("transform", `translate(${xpos},0)`)
    .call(d3.axisLeft(scale).tickValues(major).tickSize(majLen).tickSizeOuter(0)
      .tickPadding(pad).tickFormat(d => String(d)));
  styleAxis(gMajor, 80);
}

leftAxis(yDD, 259, dDMajor, dDMinor, 45, 24, 22);
leftAxis(yCO2, 257, co2Major, co2Minor, 46, 25, 26);
leftAxis(yCH4, 264, ch4Major, ch4Minor, 47, 25, 24);

const xAxisY = 1936;
const gxMinor = svg.append("g").attr("transform", `translate(0,${xAxisY})`)
  .call(d3.axisBottom(x).tickValues(xMinor).tickSize(24).tickSizeOuter(0).tickFormat(""));
styleAxis(gxMinor, 80);
const gxMid = svg.append("g").attr("transform", `translate(0,${xAxisY})`)
  .call(d3.axisBottom(x).tickValues(xMid).tickSize(35).tickSizeOuter(0).tickFormat(""));
styleAxis(gxMid, 80);
const gxMajor = svg.append("g").attr("transform", `translate(0,${xAxisY})`)
  .call(d3.axisBottom(x).tickValues(xMajor).tickSize(46).tickSizeOuter(0)
    .tickPadding(46).tickFormat(d => String(d)));
styleAxis(gxMajor, 80);
</script>
</body>
</html>
